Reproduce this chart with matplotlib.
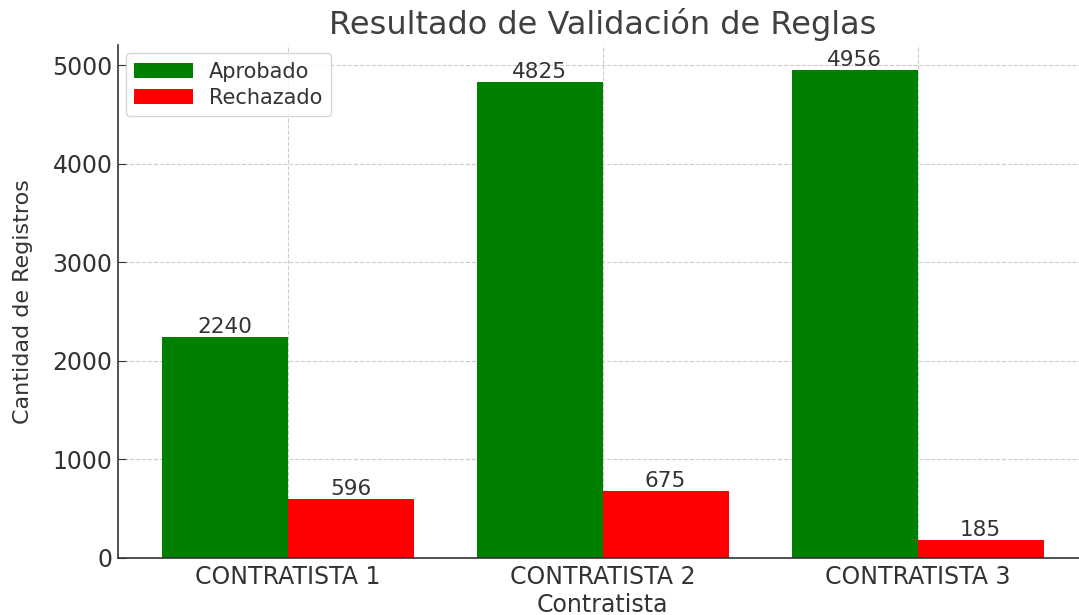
import matplotlib
matplotlib.use("Agg")
import matplotlib.pyplot as plt
import numpy as np

# datos
contratistas = ["CONTRATISTA 1", "CONTRATISTA 2", "CONTRATISTA 3"]
aprobado = [2240, 4825, 4956]
rechazado = [596, 675, 185]

plt.rcParams['font.family'] = ['DejaVu Sans']
text_color = '#333333'

fig = plt.figure(figsize=(10.79, 6.15), dpi=100)
ax = fig.add_axes([0.109, 0.0927, 0.899, 0.834])

x = np.arange(len(contratistas))
w = 0.4
b1 = ax.bar(x - w / 2, aprobado, w, color='green', label='Aprobado', zorder=2)
b2 = ax.bar(x + w / 2, rechazado, w, color='red', label='Rechazado', zorder=2)

for bars in (b1, b2):
    ax.bar_label(bars, fontsize=15.5, color=text_color, padding=0)

ax.set_xticks(x)
ax.set_xticklabels(contratistas)
ax.set_title("Resultado de Validación de Reglas", fontsize=23, color='#404040', pad=8)
ax.set_xlabel("Contratista", fontsize=17, color=text_color, labelpad=3)
ax.set_ylabel("Cantidad de Registros", fontsize=16, color=text_color, labelpad=14)

ax.tick_params(direction='in', labelsize=17, colors=text_color, length=6)
ax.tick_params(axis='x', pad=5)
ax.grid(True, linestyle='--', color='#cccccc', linewidth=0.8, zorder=0)
ax.set_axisbelow(True)
for s in ('top', 'right'):
    ax.spines[s].set_visible(False)
for s in ('left', 'bottom'):
    ax.spines[s].set_color('#333333')
    ax.spines[s].set_linewidth(1.2)

leg = ax.legend(loc='upper left', fontsize=15, frameon=True, handlelength=2.8,
                borderaxespad=0.4, labelspacing=0.3)
leg.get_frame().set_edgecolor('#cccccc')
for t in leg.get_texts():
    t.set_color(text_color)

fig.savefig("out.png", dpi=100)
